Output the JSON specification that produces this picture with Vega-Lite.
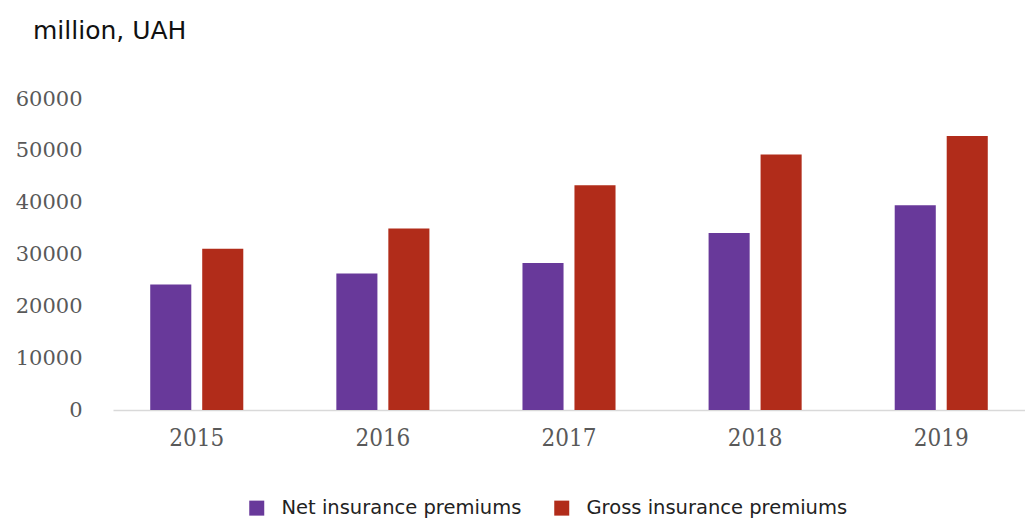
{
  "$schema": "https://vega.github.io/schema/vega-lite/v6.json",
  "autosize": "none",
  "width": 912,
  "height": 311,
  "padding": {"left": 113, "top": 99, "right": 0, "bottom": 108},
  "background": "white",
  "title": {
    "text": "million, UAH",
    "anchor": "start",
    "frame": "group",
    "font": "DejaVu Sans",
    "fontSize": 25,
    "fontWeight": "normal",
    "color": "#111111",
    "dx": -80,
    "offset": 44
  },
  "data": {
    "values": [
      {"year": "2015", "series": "Net insurance premiums", "value": 24200},
      {"year": "2015", "series": "Gross insurance premiums", "value": 31100},
      {"year": "2016", "series": "Net insurance premiums", "value": 26350},
      {"year": "2016", "series": "Gross insurance premiums", "value": 35000},
      {"year": "2017", "series": "Net insurance premiums", "value": 28350},
      {"year": "2017", "series": "Gross insurance premiums", "value": 43370},
      {"year": "2018", "series": "Net insurance premiums", "value": 34130},
      {"year": "2018", "series": "Gross insurance premiums", "value": 49270},
      {"year": "2019", "series": "Net insurance premiums", "value": 39520},
      {"year": "2019", "series": "Gross insurance premiums", "value": 52870}
    ]
  },
  "mark": {"type": "bar"},
  "encoding": {
    "x": {
      "field": "year",
      "type": "nominal",
      "scale": {"paddingInner": 0.5, "paddingOuter": 0.2},
      "axis": {
        "title": null,
        "labelAngle": 0,
        "ticks": false,
        "domainColor": "#d9d9d9",
        "domainWidth": 1.5,
        "labelFont": "DejaVu Serif Condensed",
        "labelFontSize": 24,
        "labelColor": "#595959",
        "labelPadding": 16,
        "grid": false
      }
    },
    "xOffset": {
      "field": "series",
      "type": "nominal",
      "sort": ["Net insurance premiums", "Gross insurance premiums"],
      "scale": {"paddingInner": 0.21}
    },
    "y": {
      "field": "value",
      "type": "quantitative",
      "scale": {"domain": [0, 60000]},
      "axis": {
        "title": null,
        "values": [0, 10000, 20000, 30000, 40000, 50000, 60000],
        "format": "d",
        "domain": false,
        "ticks": false,
        "grid": false,
        "labelFont": "DejaVu Serif",
        "labelFontSize": 21,
        "labelColor": "#595959",
        "labelPadding": 31
      }
    },
    "color": {
      "field": "series",
      "type": "nominal",
      "scale": {
        "domain": ["Net insurance premiums", "Gross insurance premiums"],
        "range": ["#68399A", "#B12C1A"]
      },
      "legend": {
        "title": null,
        "orient": "none",
        "legendX": 134,
        "legendY": 399,
        "direction": "horizontal",
        "symbolType": "square",
        "symbolSize": 225,
        "symbolStrokeWidth": 0,
        "labelFont": "DejaVu Sans",
        "labelFontSize": 19.5,
        "labelColor": "#222222",
        "labelLimit": 0,
        "labelOffset": 15,
        "columnPadding": 30
      }
    }
  },
  "config": {"view": {"stroke": null}}
}
